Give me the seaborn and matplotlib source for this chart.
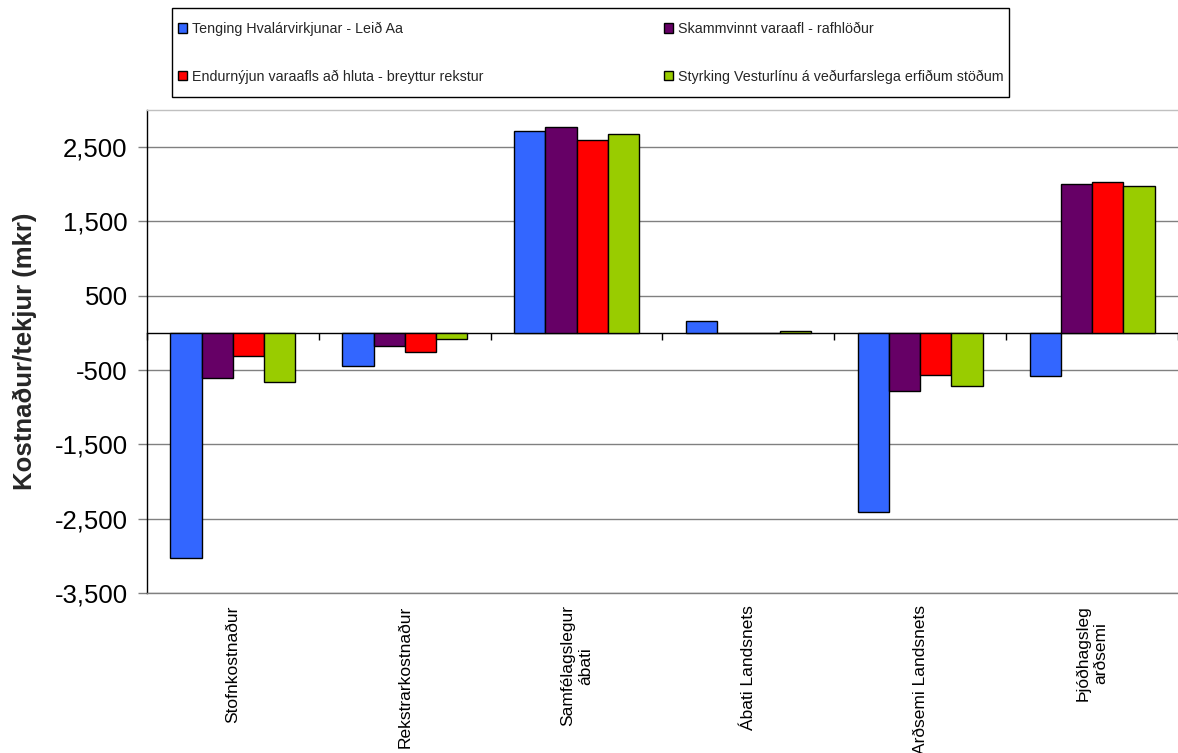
import numpy as np
import pandas as pd
import matplotlib
matplotlib.use("Agg")
import matplotlib.pyplot as plt
from matplotlib.ticker import FuncFormatter
from matplotlib.font_manager import FontProperties
from matplotlib.patches import Rectangle
import seaborn as sns

# ---- data ----
categories = ["Stofnkostnaður", "Rekstrarkostnaður", "Samfélagslegur\nábati",
              "Ábati Landsnets", "Arðsemi Landsnets", "Þjóðhagsleg\narðsemi"]
series_names = ["Tenging Hvalárvirkjunar - Leið Aa",
                "Skammvinnt varaafl - rafhlöður",
                "Endurnýjun varaafls að hluta - breyttur rekstur",
                "Styrking Vesturlínu á veðurfarslega erfiðum stöðum"]
tenging = [-3030, -450, 2720, 155, -2410, -580]
skammvinnt = [-600, -180, 2775, 0, -775, 2010]
endurnyjun = [-315, -260, 2595, 0, -560, 2030]
styrking = [-660, -80, 2675, 30, -710, 1980]
colors = ["#3366FF", "#660066", "#FF0000", "#99CC00"]
yticks = [-3500, -2500, -1500, -500, 500, 1500, 2500]
ylim = (-3500, 3000)

sns.set_style("white")
plt.rcParams["font.family"] = ["Liberation Sans", "DejaVu Sans"]
plt.rcParams["axes.unicode_minus"] = False

rows = []
for name, vals in zip(series_names, [tenging, skammvinnt, endurnyjun, styrking]):
    for c, v in zip(categories, vals):
        rows.append({"category": c, "series": name, "value": v})
df = pd.DataFrame(rows)

W, H = 1178, 753
fig = plt.figure(figsize=(W / 100, H / 100), dpi=100)
ax = fig.add_axes([147 / W, 1 - 593 / H, (W - 147) / W, (593 - 110) / H])

sns.barplot(data=df, x="category", y="value", hue="series", order=categories,
            hue_order=series_names, palette=colors, width=0.727, gap=0,
            edgecolor="black", linewidth=1, saturation=1, ax=ax, legend=True)

ax.set_ylim(*ylim)
ax.set_xlim(-0.5, len(categories) - 0.5)
ax.set_yticks(yticks)
ax.yaxis.set_major_formatter(FuncFormatter(lambda v, p: f"{v:,.0f}"))
ax.yaxis.grid(True, color="#808080", linewidth=1)
ax.xaxis.grid(False)
ax.set_axisbelow(True)
ax.tick_params(axis="y", direction="out", length=6.5, width=1, color="#808080",
               labelsize=18.5, pad=7.5, left=True, labelcolor="black")
ax.tick_params(axis="x", length=0, labelsize=12.5, pad=9, labelcolor="black")
for lab in ax.get_xticklabels():
    lab.set_rotation(90)
    lab.set_va("top")
    lab.set_ha("center")
    lab.set_multialignment("center")
ax.set_xlabel("")
ax.set_ylabel("Kostnaður/tekjur (mkr)", fontsize=18.5, fontweight="bold")
ax.yaxis.set_label_coords((37 - 147) / (W - 147), 0.5)

ax.spines["left"].set_color("black")
ax.spines["left"].set_linewidth(1)
ax.spines["bottom"].set_color("#808080")
ax.spines["bottom"].set_linewidth(1)
ax.spines["top"].set_color("#c0c0c0")
ax.spines["top"].set_linewidth(1)
ax.spines["right"].set_visible(False)

# category axis crossing at zero with boundary tick marks
zero_loc = (0 - ylim[0]) / (ylim[1] - ylim[0])
sec = ax.secondary_xaxis(zero_loc)
sec.set_alignment("bottom")
sec.set_xticks(np.arange(len(categories) + 1) - 0.5)
sec.tick_params(axis="x", direction="out", length=5, width=1, color="black",
                labelbottom=False, labeltop=False)
for s in sec.spines.values():
    s.set_visible(False)
sec.spines["bottom"].set_visible(True)
sec.spines["bottom"].set_color("black")
sec.spines["bottom"].set_linewidth(1)

# legend with its own box
box = (172 / W, 1 - 97 / H, 837 / W, 89 / H)
fig.add_artist(Rectangle(box[:2], box[2], box[3], transform=fig.transFigure,
                         facecolor="white", edgecolor="black", linewidth=1))
handles, labels = ax.get_legend_handles_labels()
ax.get_legend().remove()
order = [0, 2, 1, 3]
legprop = FontProperties(family=["Liberation Sans", "DejaVu Sans"], size=10.3)
leg = fig.legend([handles[i] for i in order], [labels[i] for i in order],
                 loc="center", bbox_to_anchor=box, mode="expand", ncol=2,
                 frameon=False, prop=legprop,
                 handlelength=0.67, handleheight=0.67, handletextpad=0.3,
                 labelspacing=2.35, borderpad=0.4, borderaxespad=0)

fig.savefig("out.png", dpi=100)
